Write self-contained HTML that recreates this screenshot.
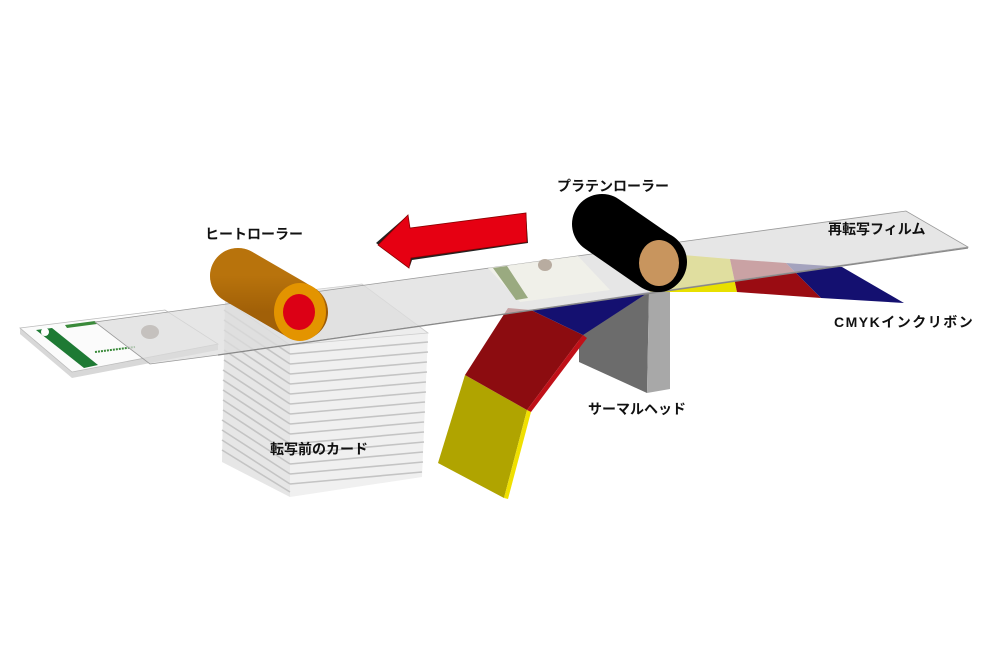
<!DOCTYPE html>
<html><head><meta charset="utf-8"><style>
html,body{margin:0;padding:0;background:#fff}
svg{display:block}
text{font-family:"Liberation Sans","Noto Sans CJK JP",sans-serif;font-weight:bold;fill:#111}
</style></head><body>
<svg width="994" height="659" viewBox="0 0 994 659" xmlns="http://www.w3.org/2000/svg">
<defs>
<linearGradient id="heat" x1="0" y1="0" x2="0" y2="1">
<stop offset="0" stop-color="#c88010"/><stop offset="1" stop-color="#9a5a08"/>
</linearGradient>
</defs>

<!-- left card -->
<polygon points="20,328 165,310 218,344 218,350 72,378 20,334" fill="#d8d8d8"/>
<polygon points="20,328 165,310 218,344 72,372" fill="#fbfbfb" stroke="#bbb" stroke-width="0.8"/>
<polygon points="36,330 52,328 98,365 84,368" fill="#1e7a34"/>
<circle cx="45" cy="332" r="4" fill="#fff"/>
<polygon points="65,325 95,321 97,324 67,328" fill="#3a8a3a"/>
<ellipse cx="150" cy="332" rx="9" ry="7" fill="#8a7a70"/>
<line x1="95" y1="352" x2="135" y2="347" stroke="#3a8a3a" stroke-width="2" stroke-dasharray="2 1"/>

<!-- card stack -->
<polygon points="225,300 290,345 290,497 222,462" fill="#e6e6e6"/>
<polygon points="290,345 428,333 422,477 290,497" fill="#f0f0f0"/>
<g stroke="#c4c4c4" stroke-width="1.6">
<line x1="224" y1="310" x2="290" y2="354"/><line x1="290" y1="354" x2="428" y2="342"/>
<line x1="224" y1="320" x2="290" y2="364"/><line x1="290" y1="364" x2="428" y2="352"/>
<line x1="224" y1="330" x2="290" y2="374"/><line x1="290" y1="374" x2="427" y2="362"/>
<line x1="224" y1="340" x2="290" y2="384"/><line x1="290" y1="384" x2="427" y2="372"/>
<line x1="224" y1="350" x2="290" y2="394"/><line x1="290" y1="394" x2="426" y2="382"/>
<line x1="224" y1="360" x2="290" y2="404"/><line x1="290" y1="404" x2="426" y2="392"/>
<line x1="223" y1="370" x2="290" y2="414"/><line x1="290" y1="414" x2="425" y2="402"/>
<line x1="223" y1="380" x2="290" y2="424"/><line x1="290" y1="424" x2="425" y2="412"/>
<line x1="223" y1="390" x2="290" y2="434"/><line x1="290" y1="434" x2="424" y2="422"/>
<line x1="223" y1="400" x2="290" y2="444"/><line x1="290" y1="444" x2="424" y2="432"/>
<line x1="223" y1="410" x2="290" y2="454"/><line x1="290" y1="454" x2="424" y2="442"/>
<line x1="222" y1="420" x2="290" y2="464"/><line x1="290" y1="464" x2="423" y2="452"/>
<line x1="222" y1="430" x2="290" y2="474"/><line x1="290" y1="474" x2="423" y2="462"/>
<line x1="222" y1="440" x2="290" y2="484"/><line x1="290" y1="484" x2="422" y2="472"/>
<line x1="222" y1="450" x2="290" y2="492"/>
</g>
<polygon points="225,300 362,284 428,333 290,345" fill="#ededed" stroke="#ccc" stroke-width="0.8"/>

<!-- thermal head -->
<polygon points="579,337 649,292 647,393 579,362" fill="#6c6c6c"/>
<polygon points="649,292 670,288 670,389 647,393" fill="#a8a8a8"/>

<!-- ribbon left hanging -->
<polygon points="465,375 527,410 504,498 438,463" fill="#b0a400"/>
<polygon points="527,410 531,412 508,499 504,498" fill="#f0e000"/>
<polygon points="508,308 531,310 583,335 527,410 465,375" fill="#8c0c10"/>
<polygon points="583,335 587,338 531,412 527,410" fill="#c01018"/>
<polygon points="531,310 649,292 583,335" fill="#141070"/>

<!-- ribbon right -->
<polygon points="649,292 683,255 730,259 737,292" fill="#e8e000"/>
<polygon points="737,292 730,259 786,263 821,298" fill="#9a0c12"/>
<polygon points="821,298 786,263 842,267 904,303" fill="#141070"/>

<!-- film -->
<polygon points="95,322 906,211 968,247 218,355 150,364" fill="#dcdcdc" fill-opacity="0.72" stroke="#9a9a9a" stroke-width="0.8"/>
<line x1="218" y1="355" x2="968" y2="248" stroke="#888" stroke-width="1.2"/>
<!-- faint card on film -->
<polygon points="488,268 578,256 610,290 520,302" fill="#f2f2ea" fill-opacity="0.8"/>
<polygon points="493,268 507,266 528,298 516,300" fill="#9aaa80"/>
<ellipse cx="545" cy="265" rx="7" ry="6" fill="#b8aca0"/>

<!-- heat roller -->
<line x1="238" y1="276" x2="300" y2="312" stroke="url(#heat)" stroke-width="56" stroke-linecap="round"/>
<line x1="238" y1="276" x2="290" y2="306" stroke="#a86508" stroke-width="56" stroke-linecap="round" stroke-opacity="0.5"/>
<ellipse cx="300" cy="312" rx="26" ry="29" fill="#e39400"/>
<ellipse cx="299" cy="312" rx="16" ry="18" fill="#dc0015"/>

<!-- platen roller -->
<line x1="602" y1="224" x2="657" y2="262" stroke="#000" stroke-width="60" stroke-linecap="round"/>
<ellipse cx="659" cy="262" rx="27" ry="30" fill="#000"/>
<ellipse cx="659" cy="263" rx="20" ry="23" fill="#c8955e"/>

<!-- red arrow -->
<polygon points="378,245 410,217 412,231 528,215 530,245 414,262 412,268" fill="#222" transform="translate(-2,-2)"/>
<polygon points="378,245 408,215 410,228 526,213 527,242 411,258 409,268" fill="#e60012" stroke="#8a0000" stroke-width="0.8"/>

<!-- labels -->
<text x="205" y="239" font-size="14">ヒートローラー</text>
<text x="557" y="191" font-size="14">プラテンローラー</text>
<text x="828" y="234" font-size="14">再転写フィルム</text>
<text x="834" y="327" font-size="14" letter-spacing="1.5">CMYKインクリボン</text>
<text x="588" y="414" font-size="14">サーマルヘッド</text>
<text x="270" y="454" font-size="14">転写前のカード</text>
</svg>
</body></html>
